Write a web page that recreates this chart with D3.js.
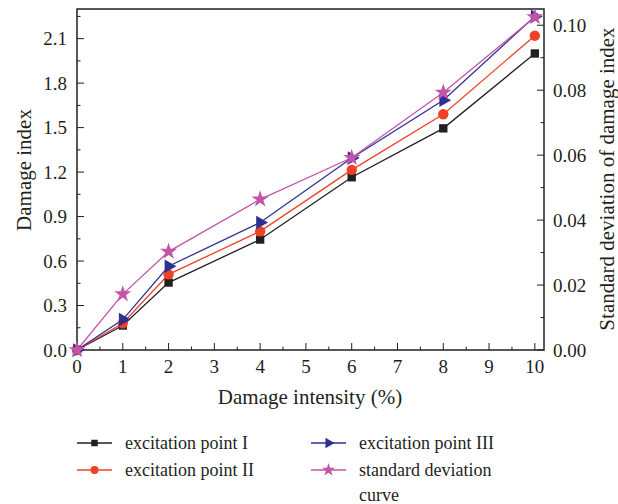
<!DOCTYPE html>
<html>
<head>
<meta charset="utf-8">
<script src="https://cdn.jsdelivr.net/npm/d3@7"></script>
<style>
  html, body { margin: 0; padding: 0; background: #fff; }
</style>
</head>
<body>
<svg id="chart" width="618" height="504"></svg>
<script>
// Damage intensity (%) on the x axis
const intensity = [0, 1, 2, 4, 6, 8, 10];
// Damage index per excitation point (left axis)
const pointI   = [0, 0.165, 0.455, 0.745, 1.165, 1.495, 2.00];
const pointII  = [0, 0.180, 0.510, 0.800, 1.215, 1.590, 2.120];
const pointIII = [0, 0.205, 0.565, 0.860, 1.295, 1.685, 2.250];
// Standard deviation of damage index (right axis)
const stdDev   = [0, 0.0172, 0.0303, 0.0464, 0.0592, 0.0793, 0.1025];

const xTicks = [0, 1, 2, 3, 4, 5, 6, 7, 8, 9, 10];
const yLeftTicks = [0, 0.3, 0.6, 0.9, 1.2, 1.5, 1.8, 2.1];
const yRightTicks = [0, 0.02, 0.04, 0.06, 0.08, 0.10];

const FONT = "Liberation Serif";
const svg = d3.select("#chart");
const L = 77, R = 544, T = 9, B = 350;
const ink = "#231f20";

const x = d3.scaleLinear().domain([0, 10.2]).range([L, R]);
const yL = d3.scaleLinear().domain([0, 2.3]).range([B, T]);
const yR = d3.scaleLinear().domain([0, 0.105]).range([B, T]);

// inward major and minor ticks
const g = svg.append("g").attr("stroke", ink).attr("stroke-width", 1);
function ticks(cls, data, x1, x2, y1, y2) {
  g.selectAll("." + cls).data(data).join("line").attr("class", cls)
    .attr("x1", x1).attr("x2", x2).attr("y1", y1).attr("y2", y2);
}
ticks("mx", d3.range(0.5, 10.2, 1), d => x(d), d => x(d), B, B - 3.5);
ticks("Mx", xTicks, d => x(d), d => x(d), B, B - 7);
ticks("my", d3.range(0.15, 2.3, 0.3), L, L + 3.5, d => yL(d), d => yL(d));
ticks("My", yLeftTicks, L, L + 7, d => yL(d), d => yL(d));
ticks("mr", d3.range(0.01, 0.105, 0.02), R, R - 3.5, d => yR(d), d => yR(d));
ticks("Mr", yRightTicks, R, R - 7, d => yR(d), d => yR(d));

// frame
svg.append("rect").attr("x", L).attr("y", T).attr("width", R - L).attr("height", B - T)
  .attr("fill", "none").attr("stroke", ink).attr("stroke-width", 1.5);

// tick labels
const fs = 19;
const txt = svg.append("g");
function label(sel) { return sel.attr("font-family", FONT).attr("fill", ink); }
label(txt.append("g").selectAll("text").data(xTicks).join("text"))
  .attr("x", d => x(d)).attr("y", B + 23).attr("text-anchor", "middle")
  .attr("font-size", fs).text(d => d);
label(txt.append("g").selectAll("text").data(yLeftTicks).join("text"))
  .attr("x", L - 10).attr("y", d => yL(d) + 6.5).attr("text-anchor", "end")
  .attr("font-size", fs).text(d => d.toFixed(1));
label(txt.append("g").selectAll("text").data(yRightTicks).join("text"))
  .attr("x", R + 9).attr("y", d => yR(d) + 6.5).attr("text-anchor", "start")
  .attr("font-size", fs).text(d => d.toFixed(2));

// axis titles
label(txt.append("text")).attr("x", 310).attr("y", 404).attr("text-anchor", "middle")
  .attr("font-size", 21).text("Damage intensity (%)");
label(txt.append("text")).attr("transform", "translate(31,170) rotate(-90)")
  .attr("text-anchor", "middle").attr("font-size", 21).text("Damage index");
label(txt.append("text")).attr("transform", "translate(614,179) rotate(-90)")
  .attr("text-anchor", "middle").attr("font-size", 21).text("Standard deviation of damage index");

// series
const series = [
  { name: "excitation point I", values: pointI, y: yL, color: "#231f20", symbol: d3.symbolSquare, size: 70, rot: 0 },
  { name: "excitation point II", values: pointII, y: yL, color: "#ef4123", symbol: d3.symbolCircle, size: 85, rot: 0 },
  { name: "excitation point III", values: pointIII, y: yL, color: "#2e3192", symbol: d3.symbolTriangle, size: 80, rot: 90 },
  { name: "standard deviation curve", values: stdDev, y: yR, color: "#c255a8", symbol: d3.symbolStar, size: 90, rot: 0 }
];

const plot = svg.append("g");
series.forEach(s => {
  const pts = intensity.map((v, i) => [v, s.values[i]]);
  plot.append("path").datum(pts)
    .attr("fill", "none").attr("stroke", s.color).attr("stroke-width", 1.3)
    .attr("d", d3.line().x(d => x(d[0])).y(d => s.y(d[1])));
});
series.forEach(s => {
  const pts = intensity.map((v, i) => [v, s.values[i]]);
  plot.append("g").selectAll("path").data(pts).join("path")
    .attr("transform", d => `translate(${x(d[0])},${s.y(d[1])}) rotate(${s.rot})`)
    .attr("d", d3.symbol().type(s.symbol).size(s.size))
    .attr("fill", s.color);
});

// legend
const leg = [
  { s: series[0], lx: 77, ly: 443 },
  { s: series[1], lx: 77, ly: 470 },
  { s: series[2], lx: 311, ly: 443 },
  { s: series[3], lx: 311, ly: 470 }
];
const lg = svg.append("g");
leg.forEach(e => {
  lg.append("line").attr("x1", e.lx).attr("x2", e.lx + 35).attr("y1", e.ly).attr("y2", e.ly)
    .attr("stroke", e.s.color).attr("stroke-width", 1.3);
  lg.append("path").attr("transform", `translate(${e.lx + 17.5},${e.ly}) rotate(${e.s.rot})`)
    .attr("d", d3.symbol().type(e.s.symbol).size(e.s.size * 0.6)).attr("fill", e.s.color);
  const t = label(lg.append("text")).attr("x", e.lx + 48).attr("y", e.ly + 6).attr("font-size", 18);
  if (e.s.name === "standard deviation curve") {
    t.append("tspan").text("standard deviation");
    t.append("tspan").attr("x", e.lx + 48).attr("dy", 25).text("curve");
  } else {
    t.text(e.s.name);
  }
});
</script>
</body>
</html>
